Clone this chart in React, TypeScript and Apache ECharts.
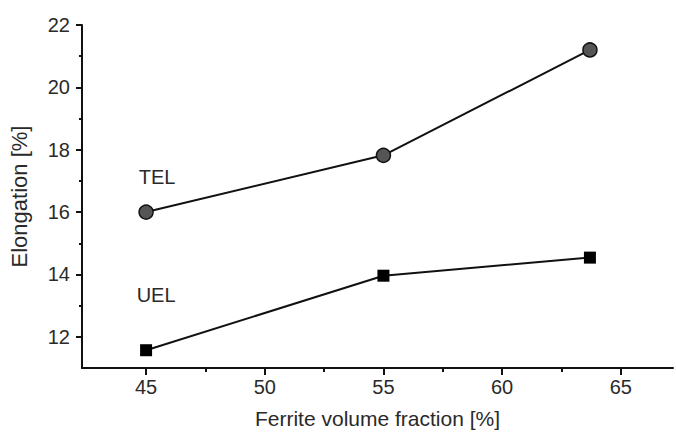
import React, { useEffect, useRef } from "react";
import * as echarts from "echarts";

const ferrite = [45.0, 55.0, 63.7];
const telValues = [16.0, 17.82, 21.2];
const uelValues = [11.57, 13.96, 14.54];
const xTicks = [45, 50, 55, 60, 65];
const xMinorTicks = [47.5, 52.5, 57.5, 62.5];
const yTicks = [12, 14, 16, 18, 20, 22];
const yMinorTicks = [13, 15, 17, 19, 21];

const FONT = "Liberation Sans, Arial, sans-serif";
const TXT = "#2a2a2a";

export default function App() {
  const ref = useRef<HTMLDivElement>(null);
  useEffect(() => {
    if (!ref.current) return;
    const chart = echarts.init(ref.current, undefined, { renderer: "svg" });
    const xMin = 42.3;
    const xMax = 67.2;
    const yMin = 11;
    const yMax = 22;
    const axisLine = { show: true, lineStyle: { color: "#111", width: 2 } };
    chart.setOption({
      animation: false,
      backgroundColor: "#fff",
      grid: { left: 77, right: 3, top: 25, bottom: 64, containLabel: false },
      xAxis: [
        {
          type: "value",
          min: xMin,
          max: xMax,
          name: "Ferrite volume fraction [%]",
          nameLocation: "middle",
          nameGap: 40,
          nameTextStyle: { fontFamily: FONT, fontSize: 21, color: TXT },
          axisLine,
          axisTick: { show: true, customValues: xTicks, length: 7, lineStyle: { color: "#111", width: 2 } },
          axisLabel: { customValues: xTicks, fontFamily: FONT, fontSize: 20, color: TXT, margin: 9 },
          splitLine: { show: false },
        },
        {
          type: "value",
          min: xMin,
          max: xMax,
          position: "bottom",
          axisLine: { show: false },
          axisTick: { show: true, customValues: xMinorTicks, length: 4, lineStyle: { color: "#111", width: 2 } },
          axisLabel: { show: false },
          splitLine: { show: false },
        },
      ],
      yAxis: [
        {
          type: "value",
          min: yMin,
          max: yMax,
          name: "Elongation [%]",
          nameLocation: "middle",
          nameGap: 52,
          nameTextStyle: { fontFamily: FONT, fontSize: 22, color: TXT },
          axisLine,
          axisTick: { show: true, customValues: yTicks, length: 6, lineStyle: { color: "#111", width: 2 } },
          axisLabel: { customValues: yTicks, fontFamily: FONT, fontSize: 20, color: TXT, margin: 12 },
          splitLine: { show: false },
        },
        {
          type: "value",
          min: yMin,
          max: yMax,
          position: "left",
          axisLine: { show: false },
          axisTick: { show: true, customValues: yMinorTicks, length: 3, lineStyle: { color: "#111", width: 2 } },
          axisLabel: { show: false },
          splitLine: { show: false },
        },
      ],
      series: [
        {
          name: "TEL",
          type: "line",
          data: ferrite.map((x, i) => [x, telValues[i]]),
          symbol: "circle",
          symbolSize: 14,
          itemStyle: { color: "#555", borderColor: "#111", borderWidth: 1.5 },
          lineStyle: { color: "#111", width: 2 },
          label: {
            show: true,
            formatter: (p: any) => (p.dataIndex === 0 ? "TEL" : ""),
            position: "top",
            offset: [11, -12],
            fontFamily: FONT,
            fontSize: 20,
            color: TXT,
          },
          z: 3,
        },
        {
          name: "UEL",
          type: "line",
          data: ferrite.map((x, i) => [x, uelValues[i]]),
          symbol: "rect",
          symbolSize: 12,
          itemStyle: { color: "#000" },
          lineStyle: { color: "#111", width: 2 },
          label: {
            show: true,
            formatter: (p: any) => (p.dataIndex === 0 ? "UEL" : ""),
            position: "top",
            offset: [10, -34],
            fontFamily: FONT,
            fontSize: 20,
            color: TXT,
          },
          z: 3,
        },
      ],
    });
    return () => chart.dispose();
  }, []);
  return <div ref={ref} style={{ width: 676, height: 434, position: "absolute", left: 0, top: 0 }} />;
}
